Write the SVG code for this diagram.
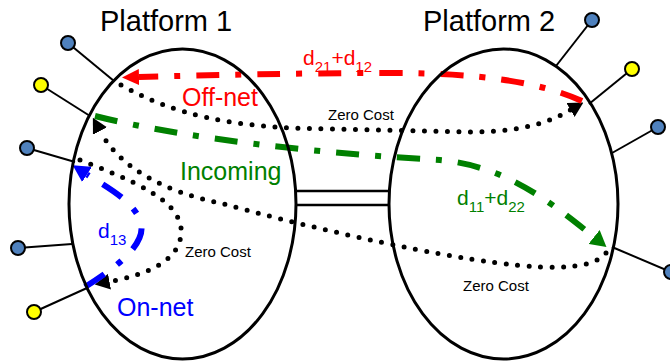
<svg xmlns="http://www.w3.org/2000/svg" width="670" height="362" viewBox="0 0 670 362">
<style>
.plat{fill:none;stroke:#000;stroke-width:3}
.title{font-family:"Liberation Sans",Arial,sans-serif;font-size:29px;fill:#000}
.term{stroke:#000;stroke-width:2}
.tb{fill:#4f81bd}
.ty{fill:#ffff00}
.spoke{stroke:#000;stroke-width:2;fill:none}
.link{stroke:#000;stroke-width:2.5;fill:none}
.dd{fill:none;stroke-width:6;stroke-dasharray:23 16 6 16}
.dot{fill:none;stroke:#000;stroke-width:5;stroke-linecap:round;stroke-dasharray:0 11.5}
.lbl{font-family:"Liberation Sans",Arial,sans-serif;font-size:25px}
.sm{font-family:"Liberation Sans",Arial,sans-serif;font-size:15px;fill:#000}
.d{font-family:"Liberation Sans",Arial,sans-serif;font-size:21px}
</style>
<defs>
<marker id="ak" markerUnits="userSpaceOnUse" viewBox="0 0 15 16" refX="0" refY="8" markerWidth="15" markerHeight="16" orient="auto"><path d="M0,0 L15,8 L0,16 z" fill="#000"/></marker>
<marker id="ar" markerUnits="userSpaceOnUse" viewBox="0 0 17 16" refX="0" refY="8" markerWidth="17" markerHeight="16" orient="auto"><path d="M0,0 L17,8 L0,16 z" fill="#ff0000"/></marker>
<marker id="ag" markerUnits="userSpaceOnUse" viewBox="0 0 16 18" refX="0" refY="9" markerWidth="16" markerHeight="18" orient="auto"><path d="M0,0 L16,9 L0,18 z" fill="#008000"/></marker>
<marker id="ab" markerUnits="userSpaceOnUse" viewBox="0 0 17 18" refX="0" refY="9" markerWidth="17" markerHeight="18" orient="auto"><path d="M0,0 L17,9 L0,18 z" fill="#0000ff"/></marker>
</defs>
<rect width="670" height="362" fill="#fff"/>
<g id="connectors">
<line class="link" x1="296" y1="191" x2="390" y2="191"/>
<line class="link" x1="296" y1="205" x2="390" y2="205"/>
<line class="spoke" x1="68" y1="43" x2="114" y2="81"/>
<line class="spoke" x1="41" y1="85" x2="90" y2="116"/>
<line class="spoke" x1="27" y1="148" x2="75" y2="162"/>
<line class="spoke" x1="18" y1="248" x2="72" y2="244"/>
<line class="spoke" x1="34" y1="312" x2="87" y2="288"/>
<line class="spoke" x1="592" y1="20" x2="556" y2="66"/>
<line class="spoke" x1="632" y1="69" x2="589" y2="104"/>
<line class="spoke" x1="658" y1="127" x2="612" y2="153"/>
<line class="spoke" x1="671" y1="272" x2="612" y2="247"/>
<path class="dot" d="M121,85 C175,115 230,128 330,129 L470,132 C505,132 540,128 570.5,110" marker-end="url(#ak)"/>
<path class="dot" d="M606,253 C590,272 540,270 470,259 C400,248 300,225 220,203 C165,192 120,168 100,131" marker-end="url(#ak)"/>
<path class="dot" d="M80,160 C130,180 185,200 181,235 C178,262 145,275 109.5,281.7" marker-end="url(#ak)"/>
<path class="dd" stroke="#ff0000" d="M582,101 C540,82 480,73 390,73 C300,73 210,75 139,77" marker-end="url(#ar)"/>
<path class="dd" stroke="#008000" d="M95,116 C190,140 330,154 440,160 C505,166 548,200 594,237" marker-end="url(#ag)"/>
<path class="dd" stroke="#0000ff" d="M85,287 C125,262 148,240 140,220 C132,200 105,186 87,174.5" marker-end="url(#ab)"/>
<text class="d" x="303" y="65" fill="#ff0000">d<tspan font-size="15" dy="7">21</tspan><tspan dy="-7">+d</tspan><tspan font-size="15" dy="7">12</tspan></text>
<text class="d" x="457" y="205" fill="#008000">d<tspan font-size="15" dy="7">11</tspan><tspan dy="-7">+d</tspan><tspan font-size="15" dy="7">22</tspan></text>
<text class="d" x="98" y="238" fill="#0000ff" font-size="20">d<tspan font-size="15" dy="7">13</tspan></text>
<text class="lbl" x="182" y="106" fill="#ff0000">Off-net</text>
<text class="lbl" x="180" y="180" fill="#008000">Incoming</text>
<text class="lbl" x="117" y="316" fill="#0000ff">On-net</text>
<text class="sm" x="328" y="120">Zero Cost</text>
<text class="sm" x="185" y="257">Zero Cost</text>
<text class="sm" x="463" y="291">Zero Cost</text>
</g>
<g id="platform1"><ellipse class="plat" cx="182.5" cy="204" rx="113.5" ry="155"/><text class="title" x="100" y="31">Platform 1</text></g>
<g id="platform2"><ellipse class="plat" cx="503.5" cy="204" rx="114.5" ry="155"/><text class="title" x="423" y="31">Platform 2</text></g>
<g id="t1a"><circle class="term tb" cx="68" cy="43" r="7"/></g>
<g id="t1b"><circle class="term ty" cx="41" cy="85" r="7"/></g>
<g id="t1c"><circle class="term tb" cx="27" cy="148" r="7"/></g>
<g id="t1d"><circle class="term tb" cx="18" cy="248" r="7"/></g>
<g id="t1e"><circle class="term ty" cx="34" cy="312" r="7"/></g>
<g id="t2a"><circle class="term tb" cx="592" cy="20" r="7"/></g>
<g id="t2b"><circle class="term ty" cx="632" cy="69" r="7"/></g>
<g id="t2c"><circle class="term tb" cx="658" cy="127" r="7"/></g>
<g id="t2d"><circle class="term tb" cx="671" cy="272" r="7"/></g>
</svg>
